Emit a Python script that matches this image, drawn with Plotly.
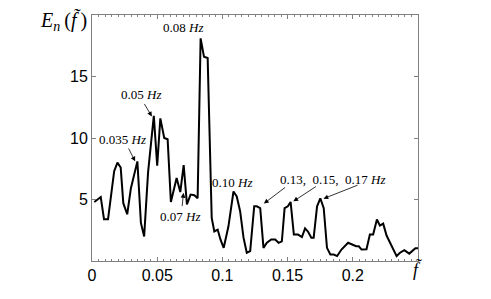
import plotly.graph_objects as go

freq = [0.0018, 0.0067, 0.0092, 0.0123, 0.017, 0.0195, 0.022, 0.024, 0.027, 0.0298,
        0.0348, 0.0375, 0.040, 0.043, 0.0474, 0.050, 0.0524, 0.0554, 0.058, 0.0605,
        0.0649, 0.0677, 0.0703, 0.0728, 0.0756, 0.0785, 0.081, 0.0833, 0.0859, 0.0887,
        0.0918, 0.0938, 0.0964, 0.0985, 0.101, 0.1046, 0.1085, 0.111, 0.1136, 0.1162,
        0.1187, 0.1213, 0.1244, 0.1264, 0.129, 0.1315, 0.1341, 0.1375, 0.1405, 0.1431,
        0.1456, 0.1477, 0.1502, 0.1523, 0.1548, 0.158, 0.161, 0.1634, 0.1656, 0.1682,
        0.170, 0.1726, 0.1751, 0.1777, 0.1802, 0.1828, 0.1854, 0.188, 0.1913, 0.1964,
        0.1995, 0.2026, 0.2046, 0.2067, 0.2105, 0.2131, 0.2156, 0.2185, 0.2208, 0.2233,
        0.2259, 0.2285, 0.231, 0.2336, 0.2362, 0.2395, 0.2433, 0.248, 0.25]
energy = [4.8, 5.2, 3.4, 3.4, 7.3, 8.0, 7.6, 4.7, 3.8, 5.9,
          8.1, 3.1, 2.0, 7.2, 11.8, 7.75, 11.6, 10.0, 9.9, 4.8,
          6.75, 5.6, 7.8, 4.6, 5.4, 5.35, 5.1, 18.1, 16.6, 16.5,
          3.5, 2.4, 2.55, 1.75, 1.07, 2.8, 5.65, 5.25, 4.05, 1.9,
          0.67, 0.8, 4.45, 4.45, 4.3, 1.07, 1.48, 1.75, 1.75, 1.48,
          1.6, 4.3, 4.45, 4.8, 2.15, 2.15, 1.95, 2.65, 2.4, 1.9,
          1.9, 4.45, 5.1, 4.3, 1.07, 0.53, 0.53, 0.4, 0.93, 1.48,
          1.34, 1.2, 1.2, 0.93, 0.95, 2.15, 2.15, 3.37, 2.88, 3.04,
          2.07, 1.48, 0.93, 0.4, 0.67, 0.88, 0.6, 1.04, 1.04]

x_ticks = [0, 0.05, 0.1, 0.15, 0.2]
x_tick_labels = ["0", "0.05", "0.1", "0.15", "0.2"]
y_ticks = [5, 10, 15]
y_tick_labels = ["5", "10", "15"]

# labels: (text, x, y)
labels = [
    ("0.08 <i>Hz</i>", 0.070, 19.0),
    ("0.05 <i>Hz</i>", 0.0377, 13.5),
    ("0.035 <i>Hz</i>", 0.0231, 9.86),
    ("0.07 <i>Hz</i>", 0.0677, 3.6),
    ("0.10 <i>Hz</i>", 0.1073, 6.37),
    ("0.13,  0.15,  0.17 <i>Hz</i>", 0.1846, 6.6),
]
# arrows: (tip_x, tip_y, tail_x, tail_y)
arrows = [
    (0.0459, 11.75, 0.0395, 12.89),
    (0.0331, 8.1, 0.0275, 9.27),
    (0.0702, 5.54, 0.069, 4.34),
    (0.1318, 4.67, 0.1492, 6.07),
    (0.1544, 4.85, 0.1728, 6.13),
    (0.1775, 5.07, 0.2048, 6.21),
]

fig = go.Figure()
fig.add_trace(go.Scatter(x=freq, y=energy, mode="lines",
                         line=dict(color="black", width=2), showlegend=False))

serif = "Liberation Serif"
for t, x, y in labels:
    fig.add_annotation(x=x, y=y, text=t, showarrow=False,
                       font=dict(family=serif, size=13, color="black"))
for tx, ty, ax, ay in arrows:
    fig.add_annotation(x=tx, y=ty, ax=ax, ay=ay, axref="x", ayref="y", text="",
                       showarrow=True, arrowhead=2, arrowsize=1.2, arrowwidth=0.8,
                       arrowcolor="black")

fig.add_annotation(xref="paper", yref="paper", x=-0.166, y=0.976, xanchor="left",
                   yanchor="middle", showarrow=False,
                   text="<i>E</i><sub><i>n</i></sub>\u2009(<i>f\u0303</i>\u2009)",
                   font=dict(family=serif, size=20, color="black"))
fig.add_annotation(xref="x", yref="paper", x=0.25, y=-0.035, xanchor="center",
                   yanchor="middle", showarrow=False, text="<i>f\u0303</i>",
                   font=dict(family=serif, size=18, color="black"))

axis_common = dict(showgrid=False, zeroline=False, showline=True, linecolor="#808080",
                   linewidth=1, mirror="allticks", ticks="inside", tickcolor="#808080",
                   tickfont=dict(family="Liberation Sans", size=16, color="black"))
fig.update_xaxes(range=[0, 0.25], tickvals=x_ticks, ticktext=x_tick_labels, ticklen=4,
                 minor=dict(ticks="inside", dtick=0.005, ticklen=2, tickcolor="#808080"),
                 **axis_common)
fig.update_yaxes(range=[0, 20], tickvals=y_ticks, ticktext=y_tick_labels, ticklen=4,
                 **axis_common)
fig.update_layout(width=491, height=299, margin=dict(l=92, r=73, t=15, b=38),
                  plot_bgcolor="white", paper_bgcolor="white")
fig.write_html("out.html", config={"displayModeBar": False},
               post_script="document.body.style.margin='0';document.body.style.overflow='hidden';")
